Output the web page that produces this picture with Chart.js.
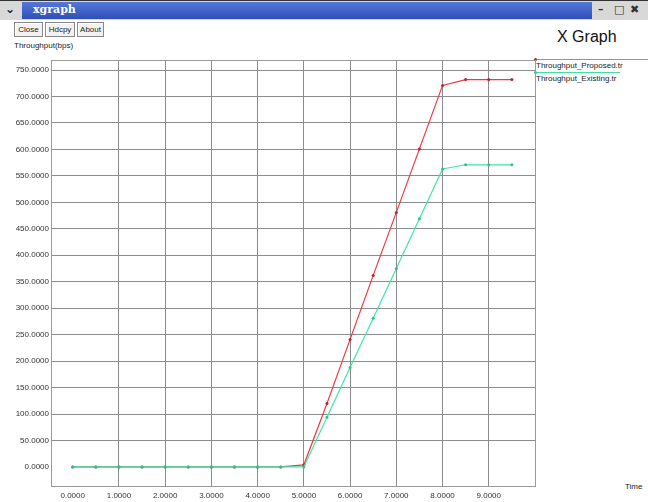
<!DOCTYPE html>
<html>
<head>
<meta charset="utf-8">
<script src="https://cdn.jsdelivr.net/npm/chart.js@4"></script>
<style>
  html, body { margin:0; padding:0; background:#fff; }
  body { width:648px; height:502px; position:relative; overflow:hidden; font-family:"Liberation Sans", Arial, sans-serif; }
  #cv { position:absolute; left:0; top:0; }
  .titlebar { position:absolute; left:0; top:0; width:648px; height:20px; background:#d8d8d8; border-top:1px solid #333; box-sizing:border-box; }
  .titlebar .blue { position:absolute; left:22px; top:1px; width:570px; height:17px; background:linear-gradient(#5577d8,#2f4fb8); }
  .titlebar .name { position:absolute; left:33px; top:2px; color:#fff; font:bold 11px "DejaVu Serif", serif; }
  .titlebar .chev { position:absolute; left:5px; top:1px; font:bold 12px "DejaVu Sans"; color:#222; }
  .titlebar .ctl { position:absolute; top:2px; font:bold 11px "DejaVu Sans"; color:#333; }
  .btn { position:absolute; top:22px; height:15px; border:1px solid #888; box-shadow:inset 1px 1px 0 #fff; background:#f2f2f2; font-size:8px; line-height:14px; text-align:center; color:#222; box-sizing:border-box; }
  .txt { position:absolute; font-size:8px; color:#222; white-space:nowrap; }
  .lg { position:absolute; height:1px; }
  .dot { position:absolute; width:3px; height:3px; border-radius:2px; }
</style>
</head>
<body>
<div class="titlebar">
  <div class="chev">&#8964;</div>
  <div class="blue"></div>
  <div class="name">xgraph</div>
  <div class="ctl" style="left:598px;">&#8211;</div>
  <div class="ctl" style="left:614px;font-weight:normal;">&#9633;</div>
  <div class="ctl" style="left:630px;">&#10006;</div>
</div>
<div class="btn" style="left:14px;width:29px;">Close</div>
<div class="btn" style="left:45px;width:30px;">Hdcpy</div>
<div class="btn" style="left:77px;width:27px;">About</div>
<div class="txt" style="left:14px;top:41px;">Throughput(bps)</div>
<div class="txt" style="left:557px;top:28px;font-size:16px;color:#111;">X Graph</div>
<div class="lg" style="left:534px;top:59px;width:114px;background:#f07070;"></div>
<div class="dot" style="left:534px;top:58px;background:#c0202a;"></div>
<div class="txt" style="left:536px;top:61px;">Throughput_Proposed.tr</div>
<div class="lg" style="left:534px;top:72px;width:86px;background:#40e0a0;"></div>
<div class="dot" style="left:534px;top:71px;background:#2cc488;"></div>
<div class="txt" style="left:536px;top:74px;">Throughput_Existing.tr</div>
<div class="txt" style="left:625px;top:482px;">Time</div>
<canvas id="cv" width="648" height="502"></canvas>
<script>
const times = [0, 0.5, 1, 1.5, 2, 2.5, 3, 3.5, 4, 4.5, 5, 5.5, 6, 6.5, 7, 7.5, 8, 8.5, 9, 9.5];
const proposed = [0, 0, 0, 0, 0, 0, 0, 0, 0, 0, 4, 120, 241, 362, 481, 601, 721, 732, 732, 732];
const existing = [0, 0, 0, 0, 0, 0, 0, 0, 0, 0, 0, 94, 188, 281, 375, 469, 563, 571, 571, 571];
const xTicks = [0, 1, 2, 3, 4, 5, 6, 7, 8, 9];
const yTicks = [0, 50, 100, 150, 200, 250, 300, 350, 400, 450, 500, 550, 600, 650, 700, 750];
const seriesNames = ["Throughput_Proposed.tr", "Throughput_Existing.tr"];

const pts = arr => times.map((t, i) => ({x: t, y: arr[i]}));

const frame = {
  id: 'frame',
  afterDraw(chart) {
    const a = chart.chartArea, c = chart.ctx;
    c.save();
    c.strokeStyle = '#9a9a9a';
    c.lineWidth = 1;
    c.strokeRect(a.left + 0.5, a.top + 0.5, a.right - a.left, a.bottom - a.top);
    c.restore();
  }
};

new Chart(document.getElementById('cv'), {
  type: 'line',
  data: {
    datasets: [
      { label: seriesNames[0], data: pts(proposed), borderColor: '#ee3a44', backgroundColor: '#c0202a',
        borderWidth: 1.2, pointRadius: 1.5, pointBorderWidth: 0, tension: 0, order: 2 },
      { label: seriesNames[1], data: pts(existing), borderColor: '#3ee6a2', backgroundColor: '#2cc488',
        borderWidth: 1.2, pointRadius: 1.5, pointBorderWidth: 0, tension: 0, order: 1 }
    ]
  },
  options: {
    responsive: false,
    animation: false,
    devicePixelRatio: 1,
    layout: { padding: { left: 0, right: 113, top: 60, bottom: 0 } },
    plugins: { legend: { display: false }, tooltip: { enabled: false } },
    scales: {
      x: {
        type: 'linear', min: -0.47, max: 10.0,
        afterBuildTicks: s => { s.ticks = xTicks.map(v => ({value: v})); },
        afterFit: s => { s.height = 16; },
        border: { display: false },
        grid: { color: c => (c.tick && c.tick.value === 0) ? 'rgba(0,0,0,0)' : '#8c8c8c', drawTicks: false, lineWidth: 1 },
        ticks: { padding: 5, maxRotation: 0, autoSkip: false, color: '#333',
                 font: { size: 8, family: 'Liberation Sans' }, callback: v => Number(v).toFixed(4) }
      },
      y: {
        type: 'linear', min: -36, max: 769,
        afterBuildTicks: s => { s.ticks = yTicks.map(v => ({value: v})); },
        afterFit: s => { s.width = 51; },
        border: { display: false },
        grid: { color: c => (c.tick && c.tick.value === 0) ? 'rgba(0,0,0,0)' : '#8c8c8c', drawTicks: false, lineWidth: 1 },
        ticks: { padding: 2, autoSkip: false, color: '#333',
                 font: { size: 8, family: 'Liberation Sans' }, callback: v => Number(v).toFixed(4) }
      }
    }
  },
  plugins: [frame]
});
</script>
</body>
</html>
